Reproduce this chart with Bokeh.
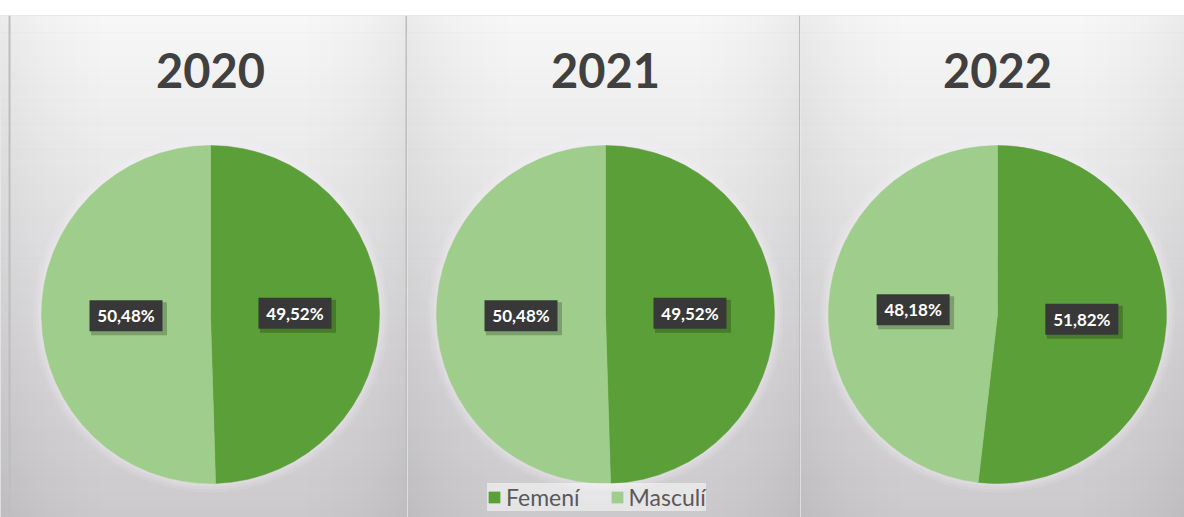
import math
from bokeh.plotting import figure
from bokeh.models import Range1d, Span, ColumnDataSource
from bokeh.layouts import row
from bokeh.embed import file_html
from bokeh.resources import INLINE
from bokeh.core.properties import value

# ---------------- data ----------------
years = ["2020", "2021", "2022"]
categories = ["Femení", "Masculí"]
femeni = [49.52, 49.52, 51.82]
masculi = [50.48, 50.48, 48.18]

# ---------------- style / layout ----------------
colors = ["#5b9f38", "#9fcd8b"]
panel_left = [0, 407, 800]
panel_width = [407, 393, 384]
pie_cx = [210, 605, 997]
WIN_H = 517
TOP = 15
pie_cy = WIN_H - 314
title_y = WIN_H - 70
R = 169
sep_lines = [[9, 406], [799.5], []]
BG_TOP = (247, 247, 247)
BG_BOT = (203, 201, 204)
N_BANDS = 60
SIDE_STEPS = [6, 12, 18, 24, 30, 38, 46, 55, 65, 76, 88, 100]


def fmt(v):
    return f"{v:.2f}".replace(".", ",") + "%"


def band_color(t):
    c = [round(a + (b - a) * t) for a, b in zip(BG_TOP, BG_BOT)]
    return "#%02x%02x%02x" % tuple(c)


figs = []
for i, yr in enumerate(years):
    x0 = panel_left[i]
    w = panel_width[i]
    p = figure(width=w, height=WIN_H, x_range=Range1d(x0, x0 + w), y_range=Range1d(0, WIN_H - TOP),
               x_axis_location=None, y_axis_location=None, toolbar_location=None,
               output_backend="svg", min_border=0, min_border_top=TOP)
    p.grid.visible = False
    p.outline_line_color = None
    p.border_fill_color = "white"
    p.background_fill_color = band_color(1.0)

    # soft background gradient (vertical bands + side shading)
    H = WIN_H - TOP
    bh = H / N_BANDS
    tops = [H - k * bh for k in range(N_BANDS)]
    bots = [t - bh - 0.5 for t in tops]
    cols = [band_color((k + 0.5) / N_BANDS) for k in range(N_BANDS)]
    p.quad(left=x0, right=x0 + w, top=tops, bottom=bots, fill_color=cols, line_color=None)
    for d in SIDE_STEPS:
        p.quad(left=[x0, x0 + w - d], right=[x0 + d, x0 + w], top=H, bottom=0,
               fill_color="#808080", fill_alpha=0.013, line_color=None)

    for xs in sep_lines[i]:
        p.add_layout(Span(location=xs, dimension="height", line_color="#bdbdbd", line_width=2))

    # pie halo
    for dr, al in [(9, 0.12), (6, 0.15), (3, 0.2)]:
        p.circle(x=pie_cx[i], y=pie_cy, radius=R + dr, fill_color="#f4f0f6", fill_alpha=al, line_color=None)

    vals = [femeni[i], masculi[i]]
    total = sum(vals)
    starts, ends, mids = [], [], []
    acc = 0.0
    for v in vals:
        a0 = math.pi / 2 - 2 * math.pi * acc / total
        acc += v
        a1 = math.pi / 2 - 2 * math.pi * acc / total
        starts.append(a0)
        ends.append(a1)
        mids.append((a0 + a1) / 2)

    src = ColumnDataSource(dict(cat=categories, val=vals, start=starts, end=ends, color=colors))
    kw = dict(legend_field="cat") if i == 1 else {}
    p.wedge(x=pie_cx[i], y=pie_cy, radius=R, start_angle="start", end_angle="end",
            direction="clock", fill_color="color", line_color="color", line_width=0.5,
            source=src, **kw)

    lx = [pie_cx[i] + 0.5 * R * math.cos(m) for m in mids]
    ly = [pie_cy + 0.5 * R * math.sin(m) for m in mids]
    lab = ColumnDataSource(dict(x=lx, y=ly, xs=[x + 3 for x in lx], ys=[y - 3 for y in ly],
                                t=[fmt(v) for v in vals]))
    p.rect(x="xs", y="ys", width=76, height=33, fill_color="black", fill_alpha=0.22,
           line_color=None, source=lab)
    p.rect(x="x", y="y", width=73, height=31, fill_color="#393839", line_color=None, source=lab)
    p.text(x="x", y="y", text="t", text_font=value("Lato"), text_font_style="bold",
           text_font_size="17px", text_color="white", text_align="center",
           text_baseline="middle", source=lab)

    p.text(x=[pie_cx[i]], y=[title_y], text=[yr], text_font=value("Lato"), text_font_style="bold",
           text_font_size="47px", text_color="#404040", text_align="center",
           text_baseline="alphabetic")

    if i == 1:
        lg = p.legend[0]
        lg.orientation = "horizontal"
        lg.location = (80, 6)
        lg.margin = 0
        lg.padding = 10
        lg.spacing = 30
        lg.glyph_width = 14
        lg.glyph_height = 14
        lg.label_standoff = 5
        lg.label_height = 16
        lg.label_text_font = "Lato"
        lg.label_text_font_size = "23px"
        lg.label_text_color = "#595959"
        lg.background_fill_color = "white"
        lg.background_fill_alpha = 0.5
        lg.border_line_color = None
    figs.append(p)

layout = row(*figs, spacing=0)
open("out.html", "w").write(file_html(layout, INLINE))
